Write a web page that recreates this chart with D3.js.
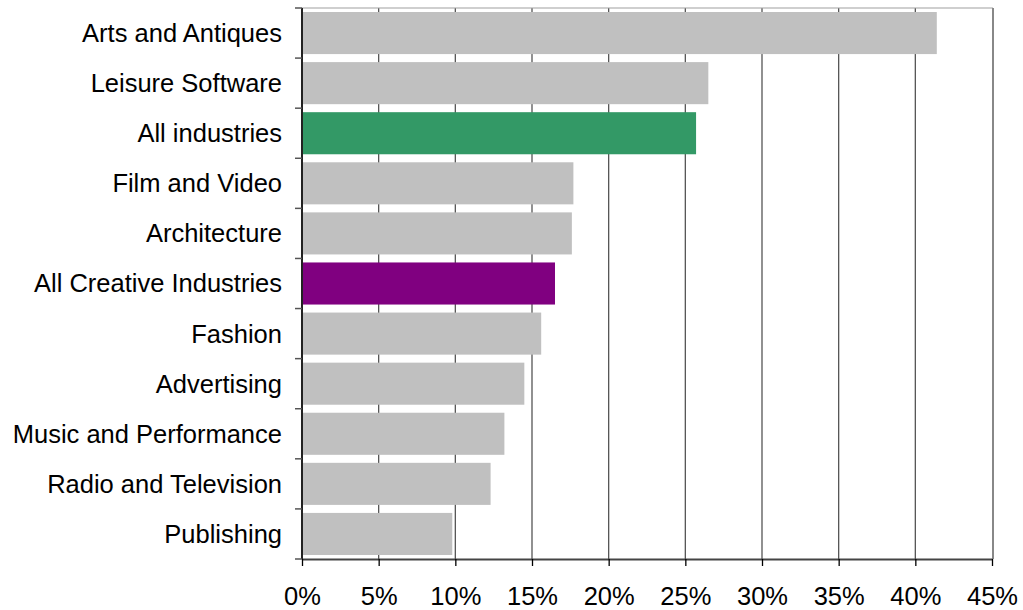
<!DOCTYPE html>
<html>
<head>
<meta charset="utf-8">
<script src="https://cdn.jsdelivr.net/npm/d3@7"></script>
<style>
  body { margin: 0; background: #fff; }
  svg { display: block; font-family: "Liberation Sans", Arial, sans-serif; }
</style>
</head>
<body>
<svg id="chart" width="1023" height="610"></svg>
<script>
const categories = [
  "Arts and Antiques", "Leisure Software", "All industries", "Film and Video",
  "Architecture", "All Creative Industries", "Fashion", "Advertising",
  "Music and Performance", "Radio and Television", "Publishing"
];
const values = [41.4, 26.5, 25.7, 17.7, 17.6, 16.5, 15.6, 14.5, 13.2, 12.3, 9.8];
const barColors = [
  "#c0c0c0", "#c0c0c0", "#339966", "#c0c0c0", "#c0c0c0", "#800080",
  "#c0c0c0", "#c0c0c0", "#c0c0c0", "#c0c0c0", "#c0c0c0"
];
const tickValues = [0, 5, 10, 15, 20, 25, 30, 35, 40, 45];

const svg = d3.select("#chart");
const m = { left: 302, right: 992, top: 8, bottom: 559 };
const fontSize = 25.5;

const x = d3.scaleLinear().domain([0, 45]).range([m.left, m.right]);
const y = d3.scaleBand().domain(categories).range([m.top, m.bottom])
  .paddingInner(0.16).paddingOuter(0.08);
const yBand = d3.scaleBand().domain(categories).range([m.top, m.bottom]);

// Vertical gridlines
svg.append("g").selectAll("line").data(tickValues.slice(1, -1)).join("line")
  .attr("x1", d => x(d)).attr("x2", d => x(d))
  .attr("y1", m.top).attr("y2", m.bottom)
  .attr("stroke", "#555").attr("stroke-width", 1.3);

// Plot frame (top and right)
svg.append("line").attr("x1", m.left).attr("x2", m.right + 1)
  .attr("y1", m.top).attr("y2", m.top)
  .attr("stroke", "#a0a0a0").attr("stroke-width", 1.2);
svg.append("line").attr("x1", m.right + 1).attr("x2", m.right + 1)
  .attr("y1", m.top).attr("y2", m.bottom)
  .attr("stroke", "#888").attr("stroke-width", 2);

// Bars
svg.append("g").selectAll("rect").data(categories).join("rect")
  .attr("x", x(0))
  .attr("y", d => y(d))
  .attr("width", (d, i) => x(values[i]) - x(0))
  .attr("height", y.bandwidth())
  .attr("fill", (d, i) => barColors[i]);

// X axis
const xAxis = svg.append("g").attr("transform", `translate(0,${m.bottom})`)
  .call(d3.axisBottom(x).tickValues(tickValues).tickFormat(d => d + "%")
    .tickSizeInner(7).tickSizeOuter(0).tickPadding(21));
xAxis.select(".domain").attr("stroke", "#444").attr("stroke-width", 2);
xAxis.selectAll(".tick line").attr("stroke", "#000").attr("stroke-width", 1.3);
xAxis.selectAll(".tick text").attr("font-size", fontSize).attr("fill", "#000")
  .attr("font-family", "Liberation Sans, Arial, sans-serif");

// Y axis: ticks at band boundaries, labels at band centres
const yAxisG = svg.append("g").attr("transform", `translate(${m.left},0)`);
yAxisG.append("line").attr("x1", 0).attr("x2", 0)
  .attr("y1", m.top).attr("y2", m.bottom)
  .attr("stroke", "#222").attr("stroke-width", 2);
const boundaries = categories.map(c => yBand(c)).concat([m.bottom]);
yAxisG.selectAll("line.tk").data(boundaries).join("line").attr("class", "tk")
  .attr("x1", -7).attr("x2", 0)
  .attr("y1", d => d).attr("y2", d => d)
  .attr("stroke", "#555").attr("stroke-width", 1.5);
yAxisG.selectAll("text").data(categories).join("text")
  .attr("x", -20)
  .attr("y", d => yBand(d) + yBand.bandwidth() / 2)
  .attr("dy", "0.35em")
  .attr("text-anchor", "end")
  .attr("font-size", fontSize)
  .attr("fill", "#000")
  .text(d => d);
</script>
</body>
</html>
